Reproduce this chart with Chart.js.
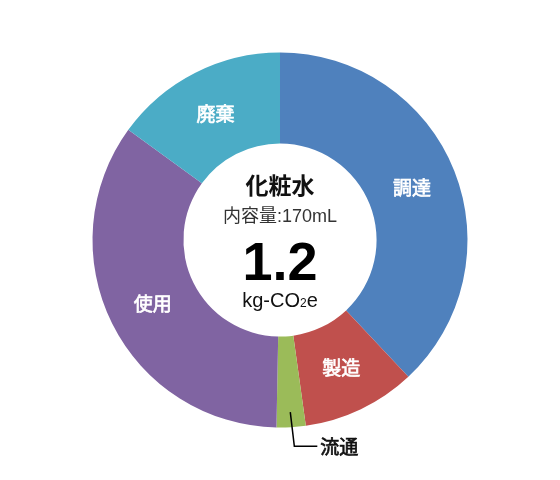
<!DOCTYPE html>
<html>
<head>
<meta charset="utf-8">
<script src="https://cdn.jsdelivr.net/npm/chart.js@4"></script>
<style>
  html, body { margin: 0; padding: 0; background: #fff; }
  #wrap { width: 560px; height: 480px; }
</style>
</head>
<body>
<div id="wrap"><canvas id="co2Chart" width="560" height="480"></canvas></div>
<script>
// Life-cycle stages and their share of the total (%)
const categories = ['調達', '製造', '流通', '使用', '廃棄'];
const shares = [38.0, 9.8, 2.5, 34.7, 15.0];
const colors = ['#4F81BD', '#C0504D', '#9BBB59', '#8064A2', '#4BACC6'];

const productName = '化粧水';
const volumeText = '内容量:170mL';
const totalValue = '1.2';

const FONT = "'Liberation Sans', 'Noto Sans CJK JP', sans-serif";
const JP = "'Noto Sans CJK JP', sans-serif";

// medium-weight text: regular glyphs with a thin outline
function mediumText(c, txt, x, y, color) {
    c.fillStyle = color;
    c.strokeStyle = color;
    c.lineWidth = 0.7;
    c.fillText(txt, x, y);
    c.strokeText(txt, x, y);
}

// segment labels; the tiny slice gets a leader line instead
const sliceLabels = {
    id: 'sliceLabels',
    afterDatasetsDraw(chart) {
        const c = chart.ctx;
        const arcs = chart.getDatasetMeta(0).data;
        c.save();
        c.font = '19px ' + JP;
        c.textBaseline = 'middle';
        arcs.forEach((arc, i) => {
            const p = arc.getProps(['x', 'y', 'startAngle', 'endAngle', 'innerRadius', 'outerRadius'], true);
            const mid = (p.startAngle + p.endAngle) / 2;
            if (i === 2) {
                const r1 = p.outerRadius - 15, r2 = p.outerRadius + 19;
                const x1 = p.x + Math.cos(mid) * r1, y1 = p.y + Math.sin(mid) * r1;
                const x2 = p.x + Math.cos(mid) * r2 + 2, y2 = p.y + Math.sin(mid) * r2;
                c.strokeStyle = '#000';
                c.lineWidth = 1.5;
                c.beginPath();
                c.moveTo(x1, y1);
                c.lineTo(x2, y2);
                c.lineTo(x2 + 23, y2);
                c.stroke();
                c.textAlign = 'left';
                mediumText(c, categories[i], x2 + 26, y2 + 1, '#111');
                return;
            }
            const r = (p.innerRadius + p.outerRadius) / 2;
            c.textAlign = 'center';
            mediumText(c, categories[i], p.x + Math.cos(mid) * r, p.y + Math.sin(mid) * r, '#fff');
        });
        c.restore();
    }
};

const centerText = {
    id: 'centerText',
    afterDraw(chart) {
        const c = chart.ctx;
        const p = chart.getDatasetMeta(0).data[0];
        const cx = p.x, cy = p.y;
        c.save();
        c.textAlign = 'center';
        c.textBaseline = 'middle';
        c.fillStyle = '#111';
        c.font = 'bold 23px ' + JP;
        c.fillText(productName, cx, cy - 55);
        c.fillStyle = '#333';
        c.font = '18px ' + FONT;
        c.fillText(volumeText, cx, cy - 23);
        c.fillStyle = '#000';
        c.font = 'bold 54px ' + FONT;
        c.fillText(totalValue, cx, cy + 25);

        // kg-CO2e with small subscript 2
        const big = '20px ' + FONT, small = '12px ' + FONT;
        c.font = big;
        const w1 = c.measureText('kg-CO').width;
        const w3 = c.measureText('e').width;
        c.font = small;
        const w2 = c.measureText('2').width;
        let x = cx - (w1 + w2 + w3) / 2;
        const y = cy + 61;
        c.textAlign = 'left';
        c.fillStyle = '#111';
        c.font = big;
        c.fillText('kg-CO', x, y);
        x += w1;
        c.font = small;
        c.fillText('2', x, y + 3);
        x += w2;
        c.font = big;
        c.fillText('e', x, y);
        c.restore();
    }
};

const ctx = document.getElementById('co2Chart').getContext('2d');
const co2Chart = new Chart(ctx, {
    type: 'doughnut',
    data: {
        labels: categories,
        datasets: [{
            data: shares,
            backgroundColor: colors,
            borderWidth: 0
        }]
    },
    options: {
        responsive: false,
        animation: false,
        cutout: '51.5%',
        layout: { padding: { top: 52.5, bottom: 52.5 } },
        plugins: {
            legend: { display: false },
            tooltip: { enabled: false }
        }
    },
    plugins: [sliceLabels, centerText]
});
</script>
</body>
</html>
